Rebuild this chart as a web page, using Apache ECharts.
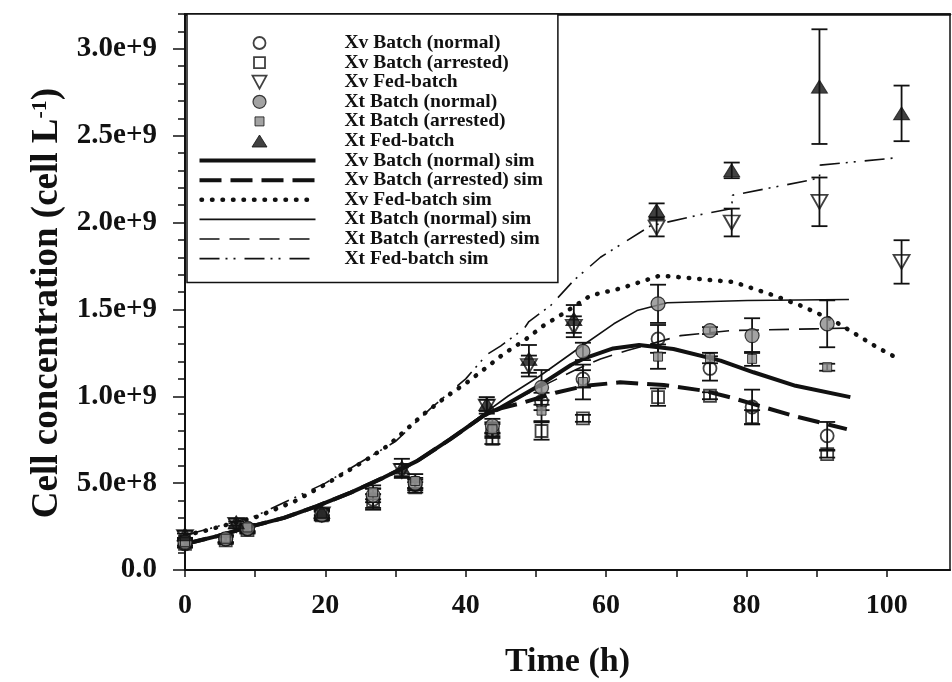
<!DOCTYPE html>
<html>
<head>
<meta charset="utf-8">
<script src="https://cdn.jsdelivr.net/npm/echarts@6/dist/echarts.min.js"></script>
<style>
  html, body { margin: 0; padding: 0; background: #fff; }
  #chart { width: 952px; height: 682px; }
</style>
</head>
<body>
<div id="chart"></div>
<script>
// ---- Measured data: sampling times (h), concentrations (cell/L), error half-widths ----
const batchTimes = [0, 5.8, 8.9, 19.5, 26.8, 32.8, 43.8, 50.8, 56.7, 67.4, 74.8, 80.8, 91.5];
const fedTimes   = [0, 7.3, 19.5, 30.9, 43.0, 49.0, 55.4, 67.2, 77.9, 90.4, 102.1];

const xvBatchNormal      = [0.150e9, 0.176e9, 0.235e9, 0.315e9, 0.407e9, 0.490e9, 0.800e9, 0.970e9, 1.100e9, 1.330e9, 1.160e9, 0.938e9, 0.772e9];
const xvBatchNormalErr   = [0.02e9, 0.02e9, 0.02e9, 0.03e9, 0.06e9, 0.03e9, 0.04e9, 0.05e9, 0.05e9, 0.08e9, 0.07e9, 0.10e9, 0.08e9];
const xvBatchArrested    = [0.150e9, 0.170e9, 0.230e9, 0.315e9, 0.397e9, 0.476e9, 0.755e9, 0.800e9, 0.873e9, 0.995e9, 1.003e9, 0.880e9, 0.667e9];
const xvBatchArrestedErr = [0.02e9, 0.02e9, 0.02e9, 0.02e9, 0.04e9, 0.03e9, 0.03e9, 0.05e9, 0.02e9, 0.05e9, 0.02e9, 0.04e9, 0.02e9];
const xvFed              = [0.190e9, 0.260e9, 0.320e9, 0.570e9, 0.940e9, 1.174e9, 1.400e9, 1.970e9, 2.000e9, 2.119e9, 1.773e9];
const xvFedErr           = [0.02e9, 0.02e9, 0.02e9, 0.04e9, 0.04e9, 0.06e9, 0.06e9, 0.05e9, 0.08e9, 0.14e9, 0.125e9];
const xtBatchNormal      = [0.160e9, 0.180e9, 0.240e9, 0.320e9, 0.430e9, 0.500e9, 0.830e9, 1.051e9, 1.258e9, 1.532e9, 1.378e9, 1.349e9, 1.417e9];
const xtBatchNormalErr   = [0.02e9, 0.02e9, 0.02e9, 0.03e9, 0.04e9, 0.03e9, 0.04e9, 0.10e9, 0.05e9, 0.11e9, 0.02e9, 0.10e9, 0.135e9];
const xtBatchArrested    = [0.160e9, 0.180e9, 0.245e9, 0.325e9, 0.447e9, 0.512e9, 0.810e9, 0.917e9, 1.082e9, 1.228e9, 1.220e9, 1.215e9, 1.167e9];
const xtBatchArrestedErr = [0.02e9, 0.02e9, 0.02e9, 0.02e9, 0.04e9, 0.04e9, 0.04e9, 0.06e9, 0.10e9, 0.07e9, 0.03e9, 0.04e9, 0.02e9];
const xtFed              = [0.205e9, 0.275e9, 0.335e9, 0.590e9, 0.955e9, 1.215e9, 1.445e9, 2.070e9, 2.300e9, 2.782e9, 2.628e9];
const xtFedErr           = [0.02e9, 0.02e9, 0.02e9, 0.05e9, 0.04e9, 0.08e9, 0.08e9, 0.04e9, 0.045e9, 0.33e9, 0.16e9];

// ---- Simulated profiles ----
const simXvNormalT = [0, 4.6, 9.3, 14.1, 18.8, 23.6, 28.3, 33.1, 37.8, 42.6, 45, 50, 55, 57, 61, 64.7, 69.6, 76.3, 81, 87, 94.8];
const simXvNormal  = [0.150e9, 0.195e9, 0.250e9, 0.300e9, 0.368e9, 0.445e9, 0.532e9, 0.628e9, 0.753e9, 0.890e9, 0.935e9, 1.050e9, 1.180e9, 1.220e9, 1.275e9, 1.295e9, 1.272e9, 1.205e9, 1.138e9, 1.060e9, 0.995e9];

const simXvArrestedT = [0, 4.6, 9.3, 14.1, 18.8, 23.6, 28.3, 33.1, 37.8, 42.6, 45, 48.3, 52.8, 57, 62, 68.2, 73.9, 77.7, 86.7, 94.3];
const simXvArrested  = [0.150e9, 0.195e9, 0.250e9, 0.300e9, 0.368e9, 0.445e9, 0.532e9, 0.628e9, 0.753e9, 0.890e9, 0.930e9, 0.965e9, 1.020e9, 1.060e9, 1.080e9, 1.065e9, 1.032e9, 0.994e9, 0.887e9, 0.811e9];

const simXvFedT = [0, 2.7, 5, 10.3, 15.7, 20, 26, 29, 34, 37.1, 40.2, 43, 45.4, 48.3, 51.1, 54.2, 57.8, 62, 67.7, 73, 78.2, 83.9, 87.7, 92.4, 98.6, 101.5];
const simXvFed  = [0.200e9, 0.224e9, 0.250e9, 0.307e9, 0.397e9, 0.493e9, 0.638e9, 0.718e9, 0.897e9, 0.994e9, 1.080e9, 1.167e9, 1.244e9, 1.320e9, 1.407e9, 1.484e9, 1.580e9, 1.620e9, 1.695e9, 1.676e9, 1.657e9, 1.580e9, 1.522e9, 1.436e9, 1.282e9, 1.219e9];

const simXtNormalT = [0, 4.6, 9.3, 14.1, 18.8, 23.6, 28.3, 33.1, 37.8, 42.6, 46, 50.6, 56.3, 61.1, 64.4, 68.7, 80.1, 94.6];
const simXtNormal  = [0.150e9, 0.195e9, 0.250e9, 0.300e9, 0.368e9, 0.445e9, 0.532e9, 0.628e9, 0.753e9, 0.900e9, 1.000e9, 1.118e9, 1.282e9, 1.417e9, 1.493e9, 1.538e9, 1.551e9, 1.557e9];

const simXtArrestedT = [0, 4.6, 9.3, 14.1, 18.8, 23.6, 28.3, 33.1, 37.8, 42.6, 44, 48, 52, 55.9, 59.2, 63, 70.6, 77.7, 89.6, 94.3];
const simXtArrested  = [0.150e9, 0.195e9, 0.250e9, 0.300e9, 0.368e9, 0.445e9, 0.532e9, 0.628e9, 0.753e9, 0.890e9, 0.910e9, 1.000e9, 1.080e9, 1.157e9, 1.215e9, 1.263e9, 1.349e9, 1.378e9, 1.388e9, 1.392e9];

const simXtFedT = [0, 10, 20, 30, 35, 40, 43, 45, 48.3, 49, 52.1, 55.4, 59.2, 66.3, 73.4, 77.9, 78, 89.1, 90.4, 90.5, 101.5];
const simXtFed  = [0.200e9, 0.310e9, 0.500e9, 0.740e9, 0.930e9, 1.100e9, 1.240e9, 1.290e9, 1.388e9, 1.430e9, 1.522e9, 1.667e9, 1.800e9, 1.980e9, 2.045e9, 2.080e9, 2.157e9, 2.244e9, 2.260e9, 2.330e9, 2.373e9];

// ---- Axis ticks and labels ----
const xTickValues  = [0, 10, 20, 30, 40, 50, 60, 70, 80, 90, 100];
const xLabelValues = [0, 20, 40, 60, 80, 100];
const yMinorTickValues = [0, 1e8, 2e8, 3e8, 4e8, 5e8, 6e8, 7e8, 8e8, 9e8, 1.0e9, 1.1e9, 1.2e9, 1.3e9, 1.4e9, 1.5e9,
  1.6e9, 1.7e9, 1.8e9, 1.9e9, 2.0e9, 2.1e9, 2.2e9, 2.3e9, 2.4e9, 2.5e9, 2.6e9, 2.7e9, 2.8e9, 2.9e9, 3.0e9, 3.1e9, 3.2e9];
const yLabelValues = [0, 5e8, 1.0e9, 1.5e9, 2.0e9, 2.5e9, 3.0e9];

const seriesNames = [
  'Xv Batch (normal)', 'Xv Batch (arrested)', 'Xv Fed-batch',
  'Xt Batch (normal)', 'Xt Batch (arrested)', 'Xt Fed-batch',
  'Xv Batch (normal) sim', 'Xv Batch (arrested) sim', 'Xv Fed-batch sim',
  'Xt Batch (normal) sim', 'Xt Batch (arrested) sim', 'Xt Fed-batch sim'
];

const FONT = '"Liberation Serif", "Times New Roman", serif';
const INK = '#111';
const GREY = '#8c8c8c';

function pairs(ts, vs) { return ts.map((t, i) => [t, vs[i]]); }

function sciLabel(v) {
  if (v === 0) return '0.0';
  const e = Math.floor(Math.log10(v) + 1e-9);
  return (v / Math.pow(10, e)).toFixed(1) + 'e+' + e;
}

// vertical error bars with caps
function errorBars(ts, vs, es) {
  return {
    type: 'custom',
    silent: true,
    z: 3,
    data: ts.map((t, i) => [t, vs[i], es[i]]),
    encode: { x: 0, y: 1 },
    renderItem(params, api) {
      const t = api.value(0), v = api.value(1), e = api.value(2);
      const hi = api.coord([t, v + e]);
      const lo = api.coord([t, v - e]);
      const w = 8;
      const st = { stroke: INK, lineWidth: 1.8 };
      return {
        type: 'group',
        children: [
          { type: 'line', shape: { x1: hi[0], y1: hi[1], x2: lo[0], y2: lo[1] }, style: st },
          { type: 'line', shape: { x1: hi[0] - w, y1: hi[1], x2: hi[0] + w, y2: hi[1] }, style: st },
          { type: 'line', shape: { x1: lo[0] - w, y1: lo[1], x2: lo[0] + w, y2: lo[1] }, style: st }
        ]
      };
    }
  };
}

function markers(name, ts, vs, symbol, size, style, rotate) {
  return {
    name, type: 'scatter', data: pairs(ts, vs), symbol, symbolSize: size,
    symbolRotate: rotate || 0, itemStyle: style, z: 5, silent: true
  };
}

function simLine(name, ts, vs, ls) {
  return {
    name, type: 'line', data: pairs(ts, vs), showSymbol: false, symbol: 'none',
    lineStyle: ls, itemStyle: { color: INK }, z: 4, silent: true
  };
}

const openStyle = { color: 'rgba(0,0,0,0)', borderColor: INK, borderWidth: 1.8 };

// legend icons: 140x14 boxes, markers centred at x=60, lines over 0..116
const BOX = 'M0,0M140,14';
const legendItems = [
  { name: seriesNames[0], icon: 'path://' + BOX + 'M54,7A6,6,0,1,1,66,7A6,6,0,1,1,54,7Z',
    itemStyle: { color: 'none', borderColor: INK, borderWidth: 1.8 } },
  { name: seriesNames[1], icon: 'path://' + BOX + 'M54.5,1.5L65.5,1.5L65.5,12.5L54.5,12.5Z',
    itemStyle: { color: 'none', borderColor: INK, borderWidth: 1.8 } },
  { name: seriesNames[2], icon: 'path://' + BOX + 'M53,0.5L67,0.5L60,13.5Z',
    itemStyle: { color: 'none', borderColor: INK, borderWidth: 1.8 } },
  { name: seriesNames[3], icon: 'path://' + BOX + 'M53.5,7A6.5,6.5,0,1,1,66.5,7A6.5,6.5,0,1,1,53.5,7Z',
    itemStyle: { color: GREY, borderColor: INK, borderWidth: 1.2 } },
  { name: seriesNames[4], icon: 'path://' + BOX + 'M55.5,2.5L64.5,2.5L64.5,11.5L55.5,11.5Z',
    itemStyle: { color: GREY, borderColor: INK, borderWidth: 1 } },
  { name: seriesNames[5], icon: 'path://' + BOX + 'M52.5,13L67.5,13L60,1Z',
    itemStyle: { color: INK, borderColor: INK, borderWidth: 1 } },
  { name: seriesNames[6], icon: 'path://' + BOX + 'M0,7L116,7',
    itemStyle: { color: 'none', borderColor: INK, borderWidth: 4, borderType: 'solid' } },
  { name: seriesNames[7], icon: 'path://' + BOX + 'M0,7L116,7',
    itemStyle: { color: 'none', borderColor: INK, borderWidth: 4, borderType: [22, 9] } },
  { name: seriesNames[8], icon: 'path://' + BOX + 'M2,7L116,7',
    itemStyle: { color: 'none', borderColor: INK, borderWidth: 4.5, borderType: [0.5, 10], borderCap: 'round' } },
  { name: seriesNames[9], icon: 'path://' + BOX + 'M0,7L116,7',
    itemStyle: { color: 'none', borderColor: INK, borderWidth: 1.6, borderType: 'solid' } },
  { name: seriesNames[10], icon: 'path://' + BOX + 'M0,7L116,7',
    itemStyle: { color: 'none', borderColor: INK, borderWidth: 1.6, borderType: [20, 10] } },
  { name: seriesNames[11], icon: 'path://' + BOX + 'M0,7L116,7',
    itemStyle: { color: 'none', borderColor: INK, borderWidth: 1.6, borderType: [20, 6, 2, 6, 2, 9] } }
];

const chart = echarts.init(document.getElementById('chart'));

chart.setOption({
  animation: false,
  backgroundColor: '#fff',
  textStyle: { fontFamily: FONT, color: INK },
  grid: {
    left: 185, right: 2, top: 14, bottom: 112,
    show: true, borderColor: INK, borderWidth: 1.5,
    containLabel: false, outerBoundsMode: 'none'
  },
  legend: {
    orient: 'vertical',
    left: 187, top: 14,
    padding: [19, 15, 14, 10],
    itemWidth: 140, itemHeight: 14, itemGap: -0.4,
    borderColor: INK, borderWidth: 1.5, backgroundColor: '#fff',
    selectedMode: false,
    textStyle: { fontFamily: FONT, fontWeight: 'bold', fontSize: 19.5, lineHeight: 19.2, color: INK },
    data: legendItems
  },
  xAxis: [
    {
      type: 'value', min: 0, max: 109, position: 'bottom',
      axisLine: { show: true, onZero: false, lineStyle: { color: INK, width: 2 } },
      axisTick: { show: true, length: 7, customValues: xTickValues, lineStyle: { color: INK, width: 1.5 } },
      axisLabel: {
        customValues: xLabelValues, margin: 22,
        fontFamily: FONT, fontWeight: 'bold', fontSize: 28, color: INK
      },
      splitLine: { show: false },
      name: 'Time (h)', nameLocation: 'middle', nameGap: 75,
      nameTextStyle: { fontFamily: FONT, fontWeight: 'bold', fontSize: 34, color: INK }
    },
    {
      type: 'value', min: 0, max: 109, position: 'top',
      axisLine: { show: true, onZero: false, lineStyle: { color: INK, width: 2.5 } },
      axisTick: { show: false }, axisLabel: { show: false }, splitLine: { show: false }
    }
  ],
  yAxis: [
    {
      type: 'value', min: 0, max: 3.2e9, position: 'left',
      axisLine: { show: true, onZero: false, lineStyle: { color: INK, width: 2 } },
      axisTick: { show: true, length: 7, customValues: yMinorTickValues, lineStyle: { color: INK, width: 1.5 } },
      axisLabel: {
        customValues: yLabelValues, margin: 28, formatter: sciLabel,
        fontFamily: FONT, fontWeight: 'bold', fontSize: 29, color: INK
      },
      splitLine: { show: false },
      name: '{t|Cell concentration (cell L}{s|-1}{t|)}',
      nameLocation: 'middle', nameGap: 106,
      nameTextStyle: {
        color: INK,
        padding: [0, 22, 0, 0],
        rich: {
          t: { fontFamily: FONT, fontWeight: 'bold', fontSize: 37, color: INK },
          s: { fontFamily: FONT, fontWeight: 'bold', fontSize: 22, color: INK, verticalAlign: 'top' }
        }
      }
    },
    {
      type: 'value', min: 0, max: 3.2e9, position: 'left',
      axisLine: { show: false },
      axisTick: { show: true, length: 12, customValues: yLabelValues, lineStyle: { color: INK, width: 1.5 } },
      axisLabel: { show: false }, splitLine: { show: false }
    }
  ],
  series: [
    errorBars(batchTimes, xvBatchNormal, xvBatchNormalErr),
    errorBars(batchTimes, xvBatchArrested, xvBatchArrestedErr),
    errorBars(fedTimes, xvFed, xvFedErr),
    errorBars(batchTimes, xtBatchNormal, xtBatchNormalErr),
    errorBars(batchTimes, xtBatchArrested, xtBatchArrestedErr),
    errorBars(fedTimes, xtFed, xtFedErr),

    markers(seriesNames[0], batchTimes, xvBatchNormal, 'circle', 13, openStyle),
    markers(seriesNames[1], batchTimes, xvBatchArrested, 'rect', 12, openStyle),
    markers(seriesNames[2], fedTimes, xvFed, 'triangle', [16, 14], openStyle, 180),
    markers(seriesNames[3], batchTimes, xtBatchNormal, 'circle', 14, { color: GREY, borderColor: INK, borderWidth: 1.2 }),
    markers(seriesNames[4], batchTimes, xtBatchArrested, 'rect', 9, { color: GREY, borderColor: INK, borderWidth: 1 }),
    markers(seriesNames[5], fedTimes, xtFed, 'triangle', [16, 13], { color: INK, borderColor: INK, borderWidth: 1 }),

    simLine(seriesNames[6], simXvNormalT, simXvNormal, { color: INK, width: 4, type: 'solid' }),
    simLine(seriesNames[7], simXvArrestedT, simXvArrested, { color: INK, width: 4, type: [22, 9] }),
    simLine(seriesNames[8], simXvFedT, simXvFed, { color: INK, width: 4.5, type: [0.5, 10], cap: 'round' }),
    simLine(seriesNames[9], simXtNormalT, simXtNormal, { color: INK, width: 1.6, type: 'solid' }),
    simLine(seriesNames[10], simXtArrestedT, simXtArrested, { color: INK, width: 1.6, type: [20, 10] }),
    simLine(seriesNames[11], simXtFedT, simXtFed, { color: INK, width: 1.6, type: [20, 6, 2, 6, 2, 9] })
  ]
});
</script>
</body>
</html>
